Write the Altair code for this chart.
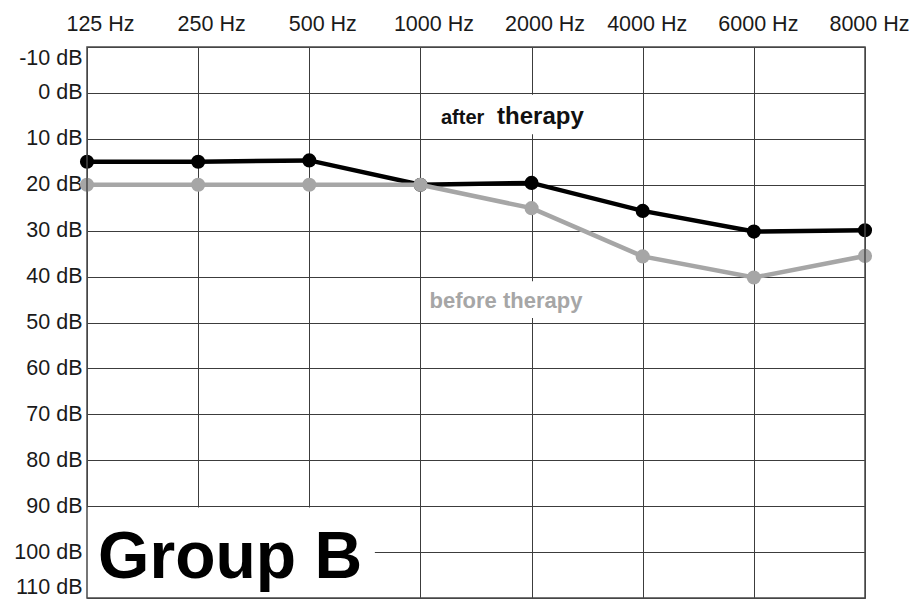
import json
import altair as alt
import pandas as pd

# ---- data ----
freq_labels = ["125 Hz", "250 Hz", "500 Hz", "1000 Hz", "2000 Hz", "4000 Hz", "6000 Hz", "8000 Hz"]
after_db = [15, 15, 14.7, 20, 19.6, 25.7, 30.2, 29.9]
before_db = [20, 20, 20, 20, 25.1, 35.6, 40.2, 35.5]
db_ticks = list(range(-10, 111, 10))

# annotation texts and their white background boxes (in data units: freq index, dB)
note_text = ["after", "therapy", "before therapy", "Group B"]
note_idx = [3.185, 3.69, 3.77, 0.1]
note_db = [6.7, 6.7, 46.8, 105.6]
box_x = [0.0, 3.01, 3.01]
box_x2 = [2.59, 4.55, 4.55]
box_y = [90.3, 0.4, 41.0]
box_y2 = [110.0, 9.0, 49.0]

idx = list(range(len(freq_labels)))
after_df = pd.DataFrame({"idx": idx, "freq": freq_labels, "db": after_db})
before_df = pd.DataFrame({"idx": idx, "freq": freq_labels, "db": before_db})
box_df = pd.DataFrame({"x": box_x, "x2": box_x2, "y": box_y, "y2": box_y2})
frame_df = pd.DataFrame({"x": [0], "x2": [len(freq_labels) - 1], "y": [db_ticks[0]], "y2": [db_ticks[-1]]})
note_df = pd.DataFrame({"text": note_text, "idx": note_idx, "db": note_db})

FONT = "Liberation Sans"
xscale = alt.Scale(domain=[0, len(freq_labels) - 1], nice=False, zero=False)
yscale = alt.Scale(domain=[db_ticks[0], db_ticks[-1]], reverse=True, nice=False, zero=False)

x_axis = alt.Axis(
    orient="top", values=idx, labelExpr=json.dumps(freq_labels) + "[datum.value]",
    grid=True, gridColor="#3c3c3c", gridWidth=1, ticks=False, tickSize=0, domain=False,
    labelFlush=False, labelOverlap=False, labelBound=False, labelFont=FONT, labelFontSize=21.5,
    labelColor="#1a1a1a", labelPadding=17, labelBaseline="alphabetic",
    labelOffset={"condition": {"test": "datum.value >= 5", "value": 4}, "value": 13},
    title=None,
)
y_axis = alt.Axis(
    values=db_ticks, labelExpr="datum.value + ' dB'",
    grid=True, gridColor="#3c3c3c", gridWidth=1, ticks=False, tickSize=0, domain=False,
    labelFont=FONT, labelFontSize=21.5, labelColor="#1a1a1a", labelPadding=5, labelOverlap=False,
    labelFlush=True, title=None,
)

after_line = alt.Chart(after_df).mark_line(color="#000000", strokeWidth=4.5).encode(
    x=alt.X("idx:Q", scale=xscale, axis=x_axis),
    y=alt.Y("db:Q", scale=yscale, axis=y_axis),
)
after_pts = alt.Chart(after_df).mark_circle(color="#000000", size=200, opacity=1).encode(
    x="idx:Q", y="db:Q"
)
before_line = alt.Chart(before_df).mark_line(color="#a6a6a6", strokeWidth=4.5).encode(
    x="idx:Q", y="db:Q"
)
before_pts = alt.Chart(before_df).mark_circle(color="#a6a6a6", size=200, opacity=1).encode(
    x="idx:Q", y="db:Q"
)
boxes = alt.Chart(box_df).mark_rect(color="white", opacity=1).encode(
    x="x:Q", x2="x2:Q", y="y:Q", y2="y2:Q"
)
frame = alt.Chart(frame_df).mark_rect(fillOpacity=0, stroke="#4a4a4a", strokeWidth=1.5).encode(
    x="x:Q", x2="x2:Q", y="y:Q", y2="y2:Q"
)

def note(i, size, color, align):
    return alt.Chart(note_df.iloc[[i]]).mark_text(
        font=FONT, fontWeight="bold", fontSize=size, color=color, align=align, baseline="alphabetic"
    ).encode(x="idx:Q", y="db:Q", text="text:N")

texts = [
    note(0, 20, "#111111", "left"),
    note(1, 24, "#111111", "left"),
    note(2, 22, "#a6a6a6", "center"),
    note(3, 66, "#000000", "left"),
]

chart = alt.layer(
    after_line, after_pts, before_line, before_pts, boxes, frame, *texts
).properties(
    width=778, height=551,
    autosize=alt.AutoSizeParams(type="none"),
    padding={"left": 79, "top": 39, "right": 46, "bottom": 5},
    background="white",
).configure_view(stroke=None)

chart.save("out.html", embed_options={"renderer": "svg", "actions": False})
